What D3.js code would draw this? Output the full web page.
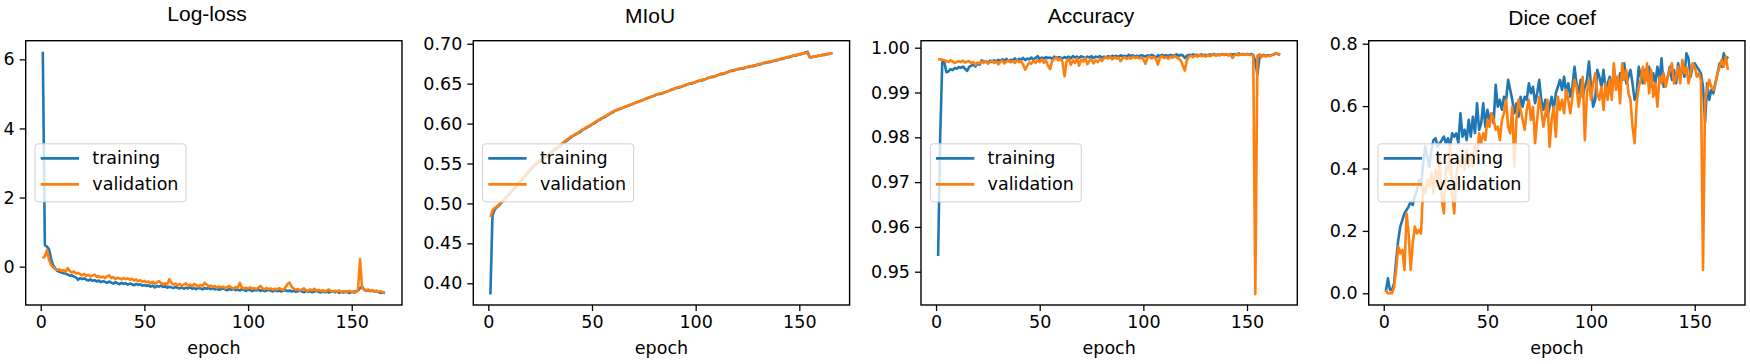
<!DOCTYPE html>
<html>
<head>
<meta charset="utf-8">
<script src="https://cdn.jsdelivr.net/npm/d3@7"></script>
<style>
    body { margin: 0; background: #fff; }
    svg { display: block; }
    .tick text { font-family: "DejaVu Sans", sans-serif; font-size: 17.5px; fill: #000; }
    .tick line, .domain { stroke: #000; }
</style>
</head>
<body>
<div id="vis"></div>
<script>
const epochs = d3.range(1, 167);

const lossTrain = [
    6.22, 0.62, 0.58, 0.50, 0.22, 0.03, -0.05, -0.12, -0.15, -0.17,
    -0.19, -0.20, -0.23, -0.26, -0.25, -0.29, -0.31, -0.38, -0.33, -0.36,
    -0.34, -0.38, -0.40, -0.37, -0.41, -0.39, -0.43, -0.40, -0.45, -0.42,
    -0.44, -0.47, -0.43, -0.46, -0.49, -0.45, -0.48, -0.51, -0.47, -0.50,
    -0.48, -0.52, -0.49, -0.51, -0.54, -0.50, -0.53, -0.51, -0.55, -0.53,
    -0.56, -0.54, -0.58, -0.55, -0.60, -0.56, -0.58, -0.55, -0.59, -0.57,
    -0.61, -0.58, -0.60, -0.62, -0.59, -0.61, -0.63, -0.60, -0.64, -0.61,
    -0.63, -0.60, -0.64, -0.62, -0.65, -0.61, -0.63, -0.66, -0.62, -0.64,
    -0.62, -0.65, -0.63, -0.66, -0.64, -0.67, -0.65, -0.63, -0.66, -0.68,
    -0.65, -0.67, -0.64, -0.68, -0.66, -0.69, -0.65, -0.67, -0.70, -0.66,
    -0.68, -0.71, -0.67, -0.69, -0.66, -0.70, -0.68, -0.71, -0.69, -0.67,
    -0.70, -0.72, -0.68, -0.71, -0.69, -0.72, -0.70, -0.68, -0.71, -0.69,
    -0.72, -0.70, -0.73, -0.71, -0.69, -0.72, -0.74, -0.70, -0.73, -0.71,
    -0.74, -0.72, -0.70, -0.73, -0.75, -0.71, -0.74, -0.72, -0.75, -0.73,
    -0.71, -0.74, -0.72, -0.76, -0.73, -0.75, -0.72, -0.74, -0.76, -0.73,
    -0.75, -0.72, -0.70, -0.62, -0.58, -0.66, -0.70, -0.68, -0.71, -0.69,
    -0.72, -0.70, -0.74, -0.76, -0.75, -0.77
];
const lossVal = [
    0.24, 0.30, 0.48, 0.20, 0.05, -0.02, -0.07, -0.10, -0.08, -0.12,
    -0.10, -0.15, -0.04, -0.13, -0.17, -0.14, -0.20, -0.18, -0.22, -0.25,
    -0.21, -0.27, -0.24, -0.28, -0.26, -0.23, -0.30, -0.27, -0.31, -0.29,
    -0.33, -0.28, -0.25, -0.33, -0.30, -0.36, -0.32, -0.34, -0.37, -0.33,
    -0.36, -0.34, -0.38, -0.35, -0.40, -0.37, -0.42, -0.39, -0.44, -0.41,
    -0.45, -0.43, -0.48, -0.44, -0.50, -0.46, -0.42, -0.47, -0.51, -0.48,
    -0.52, -0.36, -0.47, -0.52, -0.49, -0.54, -0.50, -0.55, -0.52, -0.48,
    -0.55, -0.52, -0.57, -0.50, -0.54, -0.58, -0.53, -0.56, -0.47, -0.52,
    -0.57, -0.55, -0.59, -0.56, -0.61, -0.57, -0.60, -0.58, -0.62, -0.59,
    -0.56, -0.61, -0.63, -0.59, -0.62, -0.47, -0.60, -0.64, -0.61, -0.63,
    -0.60, -0.64, -0.62, -0.65, -0.61, -0.56, -0.63, -0.66, -0.62, -0.65,
    -0.63, -0.67, -0.64, -0.66, -0.62, -0.65, -0.68, -0.60, -0.51, -0.46,
    -0.58, -0.64, -0.67, -0.65, -0.69, -0.66, -0.63, -0.68, -0.70, -0.66,
    -0.69, -0.64, -0.70, -0.67, -0.71, -0.68, -0.72, -0.69, -0.66, -0.71,
    -0.73, -0.70, -0.72, -0.69, -0.73, -0.71, -0.74, -0.72, -0.70, -0.73,
    -0.71, -0.74, -0.70, 0.21, -0.62, -0.66, -0.69, -0.66, -0.70, -0.68,
    -0.72, -0.70, -0.73, -0.71, -0.75, -0.74
];

const miouTrain = [
    0.386, 0.485, 0.492, 0.495, 0.497, 0.500, 0.503, 0.506, 0.509, 0.511,
    0.514, 0.517, 0.520, 0.523, 0.526, 0.529, 0.532, 0.535, 0.538, 0.541,
    0.544, 0.547, 0.549, 0.551, 0.553, 0.555, 0.557, 0.559, 0.561, 0.563,
    0.565, 0.567, 0.569, 0.571, 0.573, 0.575, 0.577, 0.579, 0.581, 0.583,
    0.585, 0.586, 0.588, 0.589, 0.591, 0.593, 0.594, 0.596, 0.597, 0.599,
    0.600, 0.602, 0.604, 0.605, 0.607, 0.608, 0.610, 0.611, 0.613, 0.614,
    0.616, 0.617, 0.618, 0.619, 0.620, 0.621, 0.622, 0.623, 0.624, 0.625,
    0.626, 0.627, 0.628, 0.629, 0.630, 0.631, 0.632, 0.633, 0.634, 0.635,
    0.636, 0.637, 0.637, 0.638, 0.639, 0.640, 0.641, 0.642, 0.643, 0.644,
    0.645, 0.645, 0.646, 0.647, 0.648, 0.649, 0.650, 0.650, 0.651, 0.652,
    0.653, 0.654, 0.654, 0.655, 0.656, 0.657, 0.658, 0.658, 0.659, 0.660,
    0.661, 0.662, 0.662, 0.663, 0.664, 0.665, 0.666, 0.666, 0.667, 0.668,
    0.668, 0.669, 0.669, 0.670, 0.671, 0.671, 0.672, 0.672, 0.673, 0.674,
    0.674, 0.675, 0.676, 0.676, 0.677, 0.677, 0.678, 0.679, 0.679, 0.680,
    0.681, 0.681, 0.682, 0.683, 0.683, 0.684, 0.685, 0.685, 0.686, 0.687,
    0.687, 0.688, 0.689, 0.690, 0.683, 0.683, 0.684, 0.684, 0.685, 0.685,
    0.686, 0.686, 0.687, 0.687, 0.688, 0.688
];
const miouVal = [
    0.483, 0.491, 0.494, 0.496, 0.498, 0.501, 0.503, 0.506, 0.509, 0.512,
    0.515, 0.518, 0.521, 0.524, 0.527, 0.530, 0.533, 0.536, 0.539, 0.542,
    0.545, 0.547, 0.550, 0.552, 0.554, 0.556, 0.558, 0.560, 0.562, 0.564,
    0.566, 0.568, 0.570, 0.572, 0.574, 0.576, 0.578, 0.580, 0.582, 0.584,
    0.585, 0.587, 0.588, 0.590, 0.592, 0.593, 0.595, 0.596, 0.598, 0.599,
    0.601, 0.603, 0.604, 0.606, 0.607, 0.609, 0.610, 0.612, 0.613, 0.615,
    0.616, 0.617, 0.618, 0.619, 0.620, 0.621, 0.622, 0.623, 0.624, 0.625,
    0.626, 0.627, 0.628, 0.629, 0.630, 0.631, 0.632, 0.633, 0.634, 0.635,
    0.636, 0.637, 0.638, 0.638, 0.639, 0.640, 0.641, 0.642, 0.643, 0.644,
    0.645, 0.646, 0.646, 0.647, 0.648, 0.649, 0.650, 0.651, 0.651, 0.652,
    0.653, 0.654, 0.655, 0.655, 0.656, 0.657, 0.658, 0.659, 0.659, 0.660,
    0.661, 0.662, 0.663, 0.663, 0.664, 0.665, 0.666, 0.667, 0.667, 0.668,
    0.669, 0.669, 0.670, 0.670, 0.671, 0.672, 0.672, 0.673, 0.673, 0.674,
    0.675, 0.675, 0.676, 0.677, 0.677, 0.678, 0.678, 0.679, 0.680, 0.680,
    0.681, 0.682, 0.682, 0.683, 0.684, 0.684, 0.685, 0.686, 0.686, 0.687,
    0.687, 0.688, 0.688, 0.689, 0.683, 0.683, 0.684, 0.684, 0.685, 0.685,
    0.686, 0.686, 0.687, 0.687, 0.688, 0.688
];

const accTrain = [
    0.9535, 0.9800, 0.9968, 0.9968, 0.9945, 0.9947, 0.9952, 0.9950, 0.9955, 0.9953,
    0.9957, 0.9955, 0.9958, 0.9953, 0.9948, 0.9957, 0.9960, 0.9962, 0.9958, 0.9965,
    0.9962, 0.9972, 0.9968, 0.9970, 0.9966, 0.9971, 0.9968, 0.9972, 0.9969, 0.9973,
    0.9970, 0.9974, 0.9971, 0.9975, 0.9970, 0.9973, 0.9972, 0.9976, 0.9971, 0.9975,
    0.9973, 0.9977, 0.9972, 0.9976, 0.9974, 0.9978, 0.9973, 0.9977, 0.9981, 0.9975,
    0.9978, 0.9976, 0.9979, 0.9977, 0.9978, 0.9975, 0.9980, 0.9977, 0.9979, 0.9978,
    0.9976, 0.9979, 0.9977, 0.9980, 0.9976, 0.9981, 0.9978, 0.9980, 0.9977, 0.9981,
    0.9979, 0.9977, 0.9980, 0.9978, 0.9981, 0.9977, 0.9980, 0.9979, 0.9981, 0.9978,
    0.9980, 0.9978, 0.9981, 0.9979, 0.9982, 0.9980, 0.9982, 0.9979, 0.9983, 0.9981,
    0.9982, 0.9980, 0.9984, 0.9981, 0.9983, 0.9980, 0.9982, 0.9981, 0.9983, 0.9982,
    0.9980, 0.9983, 0.9981, 0.9984, 0.9982, 0.9976, 0.9983, 0.9981, 0.9984, 0.9982,
    0.9983, 0.9981, 0.9984, 0.9982, 0.9983, 0.9985, 0.9982, 0.9984, 0.9983, 0.9977,
    0.9982, 0.9984, 0.9983, 0.9985, 0.9983, 0.9984, 0.9982, 0.9985, 0.9983, 0.9984,
    0.9982, 0.9985, 0.9984, 0.9986, 0.9983, 0.9985, 0.9984, 0.9986, 0.9984, 0.9985,
    0.9983, 0.9986, 0.9985, 0.9986, 0.9984, 0.9987, 0.9985, 0.9986, 0.9984, 0.9986,
    0.9985, 0.9986, 0.9984, 0.9970, 0.9940, 0.9978, 0.9982, 0.9984, 0.9982, 0.9983,
    0.9982, 0.9984, 0.9985, 0.9987, 0.9986, 0.9984
];
const accVal = [
    0.9974, 0.9974, 0.9973, 0.9972, 0.9970, 0.9968, 0.9972, 0.9969, 0.9966, 0.9968,
    0.9970, 0.9968, 0.9971, 0.9967, 0.9969, 0.9970, 0.9966, 0.9968, 0.9962, 0.9967,
    0.9965, 0.9969, 0.9966, 0.9970, 0.9964, 0.9968, 0.9971, 0.9966, 0.9969, 0.9963,
    0.9968, 0.9971, 0.9965, 0.9969, 0.9972, 0.9967, 0.9970, 0.9966, 0.9972, 0.9968,
    0.9970, 0.9962, 0.9951, 0.9960, 0.9967, 0.9964, 0.9971, 0.9966, 0.9972, 0.9968,
    0.9974, 0.9966, 0.9972, 0.9960, 0.9952, 0.9970, 0.9975, 0.9978, 0.9972, 0.9976,
    0.9968, 0.9936, 0.9970, 0.9975, 0.9962, 0.9972, 0.9966, 0.9976, 0.9960, 0.9973,
    0.9969, 0.9977, 0.9963, 0.9971, 0.9974, 0.9965, 0.9972, 0.9968, 0.9975, 0.9970,
    0.9977, 0.9979, 0.9976, 0.9980, 0.9974, 0.9979, 0.9976, 0.9978, 0.9970, 0.9977,
    0.9979, 0.9975, 0.9978, 0.9976, 0.9980, 0.9977, 0.9979, 0.9976, 0.9978, 0.9975,
    0.9964, 0.9978, 0.9980, 0.9976, 0.9979, 0.9976, 0.9962, 0.9978, 0.9981, 0.9977,
    0.9979, 0.9975, 0.9980, 0.9977, 0.9982, 0.9978, 0.9976, 0.9972, 0.9960, 0.9949,
    0.9972, 0.9980, 0.9982, 0.9979, 0.9983, 0.9980, 0.9984, 0.9981, 0.9983, 0.9980,
    0.9984, 0.9981, 0.9983, 0.9985, 0.9982, 0.9984, 0.9983, 0.9985, 0.9984, 0.9986,
    0.9983, 0.9985, 0.9977, 0.9984, 0.9986, 0.9983, 0.9985, 0.9986, 0.9984, 0.9986,
    0.9985, 0.9984, 0.9983, 0.9450, 0.9982, 0.9985, 0.9979, 0.9983, 0.9980, 0.9982,
    0.9981, 0.9984, 0.9986, 0.9988, 0.9985, 0.9986
];

const diceTrain = [
    0.005, 0.048, 0.011, 0.011, 0.032, 0.107, 0.171, 0.214, 0.235, 0.256,
    0.267, 0.278, 0.294, 0.283, 0.310, 0.331, 0.363, 0.342, 0.417, 0.470,
    0.438, 0.406, 0.459, 0.491, 0.497, 0.470, 0.481, 0.491, 0.502, 0.481,
    0.497, 0.470, 0.513, 0.502, 0.513, 0.481, 0.577, 0.502, 0.524, 0.491,
    0.556, 0.502, 0.566, 0.513, 0.609, 0.524, 0.545, 0.609, 0.534, 0.588,
    0.556, 0.577, 0.545, 0.668, 0.598, 0.620, 0.588, 0.630, 0.620, 0.684,
    0.652, 0.620, 0.577, 0.609, 0.566, 0.630, 0.598, 0.630, 0.620, 0.673,
    0.641, 0.662, 0.609, 0.641, 0.684, 0.620, 0.588, 0.620, 0.566, 0.598,
    0.630, 0.588, 0.641, 0.662, 0.684, 0.652, 0.694, 0.641, 0.673, 0.630,
    0.662, 0.726, 0.673, 0.641, 0.684, 0.630, 0.662, 0.684, 0.743, 0.662,
    0.598, 0.620, 0.716, 0.694, 0.662, 0.716, 0.652, 0.673, 0.694, 0.641,
    0.716, 0.684, 0.662, 0.705, 0.684, 0.737, 0.673, 0.694, 0.716, 0.673,
    0.620, 0.641, 0.726, 0.694, 0.673, 0.716, 0.684, 0.726, 0.662, 0.705,
    0.673, 0.726, 0.684, 0.753, 0.662, 0.673, 0.694, 0.726, 0.684, 0.716,
    0.673, 0.737, 0.694, 0.726, 0.694, 0.769, 0.753, 0.694, 0.726, 0.737,
    0.726, 0.716, 0.705, 0.662, 0.550, 0.673, 0.620, 0.652, 0.641, 0.673,
    0.705, 0.737, 0.726, 0.769, 0.748, 0.759
];
const diceVal = [
    0.011, 0.000, 0.000, 0.000, 0.021, 0.075, 0.150, 0.128, 0.139, 0.075,
    0.256, 0.192, 0.075, 0.160, 0.214, 0.192, 0.203, 0.192, 0.342, 0.321,
    0.363, 0.342, 0.385, 0.321, 0.395, 0.342, 0.438, 0.299, 0.256, 0.406,
    0.395, 0.470, 0.321, 0.256, 0.374, 0.427, 0.406, 0.449, 0.395, 0.459,
    0.406, 0.449, 0.406, 0.470, 0.438, 0.513, 0.481, 0.513, 0.491, 0.556,
    0.534, 0.577, 0.556, 0.524, 0.534, 0.491, 0.556, 0.577, 0.620, 0.534,
    0.513, 0.598, 0.406, 0.556, 0.620, 0.588, 0.556, 0.524, 0.588, 0.620,
    0.556, 0.598, 0.481, 0.556, 0.630, 0.588, 0.534, 0.577, 0.620, 0.470,
    0.556, 0.598, 0.502, 0.630, 0.588, 0.620, 0.577, 0.652, 0.620, 0.577,
    0.630, 0.684, 0.662, 0.598, 0.641, 0.694, 0.491, 0.641, 0.684, 0.620,
    0.673, 0.705, 0.641, 0.620, 0.662, 0.588, 0.673, 0.620, 0.684, 0.620,
    0.737, 0.652, 0.694, 0.609, 0.737, 0.684, 0.716, 0.641, 0.620, 0.534,
    0.481, 0.609, 0.662, 0.684, 0.726, 0.673, 0.737, 0.641, 0.716, 0.630,
    0.673, 0.598, 0.694, 0.673, 0.705, 0.662, 0.694, 0.716, 0.737, 0.673,
    0.694, 0.726, 0.673, 0.748, 0.705, 0.726, 0.673, 0.705, 0.737, 0.726,
    0.694, 0.705, 0.684, 0.075, 0.620, 0.652, 0.684, 0.662, 0.652, 0.673,
    0.705, 0.726, 0.748, 0.726, 0.759, 0.716
];

const titles = ['Log-loss', 'MIoU', 'Accuracy', 'Dice coef'];
const seriesNames = ['training', 'validation'];
const xTicks = [0, 50, 100, 150];
const yTicks = [
    [0, 2, 4, 6],
    [0.40, 0.45, 0.50, 0.55, 0.60, 0.65, 0.70],
    [0.95, 0.96, 0.97, 0.98, 0.99, 1.00],
    [0.0, 0.2, 0.4, 0.6, 0.8]
];
const yFormats = ['d', '.2f', '.2f', '.1f'];

let panels = [
    {title: titles[0], train: lossTrain, val: lossVal, yDomain: [-1.11, 6.54], left: 25.7, titleX: 207, titleY: 21},
    {title: titles[1], train: miouTrain, val: miouVal, yDomain: [0.3728, 0.7038], left: 473.3, titleX: 650, titleY: 23},
    {title: titles[2], train: accTrain, val: accVal, yDomain: [0.94257, 1.00156], left: 921, titleX: 1091, titleY: 23},
    {title: titles[3], train: diceTrain, val: diceVal, yDomain: [-0.0375, 0.8096], left: 1368.7, titleX: 1552, titleY: 25}
];

let width = 1750, height = 364;
let axW = 376.3;
let axTop = 40.7, axBottom = 305;
let axH = axBottom - axTop;
let colors = ['#1f77b4', '#ff7f0e'];

let svg = d3.select('#vis')
    .append('svg')
    .attr('width', width)
    .attr('height', height);

let x = d3.scaleLinear()
    .domain([-7.25, 174.25])
    .range([0, axW]);

panels.forEach((p, i) => {
    let g = svg.append('g')
        .attr('transform', `translate(${p.left},${axTop})`);

    let y = d3.scaleLinear()
        .domain(p.yDomain)
        .range([axH, 0]);

    // x axis
    g.append('g')
        .attr('transform', `translate(0,${axH})`)
        .call(d3.axisBottom(x).tickValues(xTicks).tickSize(6).tickPadding(5).tickFormat(d3.format('d')))
        .call(a => a.select('.domain').remove());

    // y axis
    g.append('g')
        .call(d3.axisLeft(y).tickValues(yTicks[i]).tickSize(6).tickPadding(5).tickFormat(d3.format(yFormats[i])))
        .call(a => a.select('.domain').remove());

    g.selectAll('.tick line').attr('stroke-width', 1.3);

    let line = d3.line()
        .x((d, j) => x(epochs[j]))
        .y(d => y(d));

    [p.train, p.val].forEach((s, k) => {
        g.append('path')
            .datum(s)
            .attr('fill', 'none')
            .attr('stroke', colors[k])
            .attr('stroke-width', 2.6)
            .attr('stroke-linejoin', 'round')
            .attr('d', line);
    });

    // frame
    g.append('rect')
        .attr('width', axW)
        .attr('height', axH)
        .attr('fill', 'none')
        .attr('stroke', '#000')
        .attr('stroke-width', 1.4);

    // legend, center left
    let lg = g.append('g')
        .attr('transform', `translate(9.3,${axH / 2 - 29})`);
    lg.append('rect')
        .attr('width', 151)
        .attr('height', 58)
        .attr('rx', 3)
        .attr('fill', '#fff')
        .attr('fill-opacity', 0.8)
        .attr('stroke', '#d0d0d0');
    seriesNames.forEach((name, k) => {
        let yy = 14.5 + k * 26;
        lg.append('line')
            .attr('x1', 5.7).attr('x2', 44)
            .attr('y1', yy).attr('y2', yy)
            .attr('stroke', colors[k])
            .attr('stroke-width', 2.6);
        lg.append('text')
            .attr('x', 57.3)
            .attr('y', yy + 6)
            .attr('font-family', 'DejaVu Sans, sans-serif')
            .attr('font-size', 17.5)
            .text(name);
    });

    // axis label
    g.append('text')
        .attr('x', axW / 2)
        .attr('y', 354 - axTop)
        .attr('text-anchor', 'middle')
        .attr('font-family', 'DejaVu Sans, sans-serif')
        .attr('font-size', 17.5)
        .text('epoch');

    svg.append('text')
        .attr('x', p.titleX)
        .attr('y', p.titleY)
        .attr('text-anchor', 'middle')
        .attr('font-family', 'Liberation Sans, Arial, sans-serif')
        .attr('font-size', 21)
        .text(p.title);
});
</script>
</body>
</html>
